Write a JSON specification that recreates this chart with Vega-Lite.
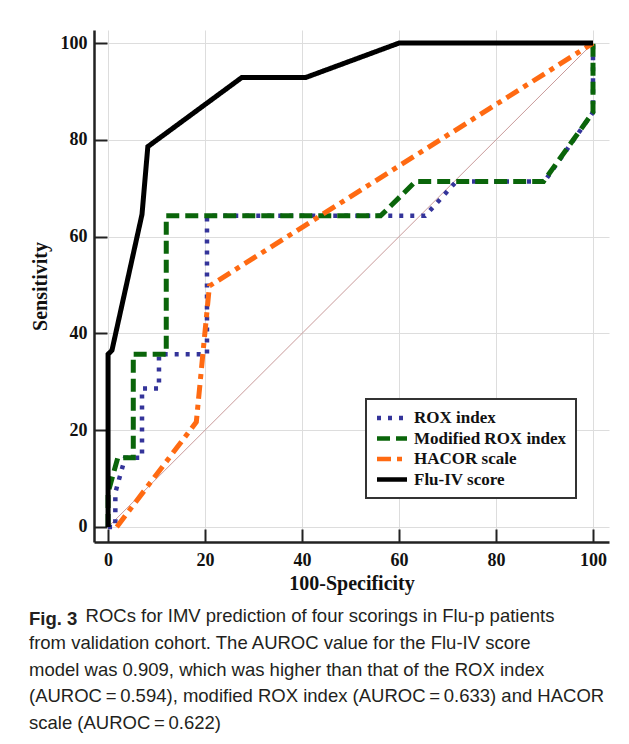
{
  "$schema": "https://vega.github.io/schema/vega-lite/v6.json",
  "width": 515,
  "height": 512,
  "autosize": {"type": "none"},
  "padding": {"left": 94, "top": 30, "right": 20, "bottom": 202},
  "background": "white",
  "datasets": {
    "roc": [
      {"model": "ROX index", "ord": 1, "fpr": 0, "sens": 0},
      {"model": "ROX index", "ord": 2, "fpr": 1.5, "sens": 0},
      {"model": "ROX index", "ord": 3, "fpr": 1.5, "sens": 7.1},
      {"model": "ROX index", "ord": 4, "fpr": 3.5, "sens": 14.3},
      {"model": "ROX index", "ord": 5, "fpr": 7, "sens": 14.3},
      {"model": "ROX index", "ord": 6, "fpr": 7, "sens": 28.6},
      {"model": "ROX index", "ord": 7, "fpr": 10.5, "sens": 28.6},
      {"model": "ROX index", "ord": 8, "fpr": 10.5, "sens": 35.7},
      {"model": "ROX index", "ord": 9, "fpr": 20.4, "sens": 35.7},
      {"model": "ROX index", "ord": 10, "fpr": 20.4, "sens": 64.3},
      {"model": "ROX index", "ord": 11, "fpr": 65.4, "sens": 64.3},
      {"model": "ROX index", "ord": 12, "fpr": 71.8, "sens": 71.4},
      {"model": "ROX index", "ord": 13, "fpr": 90, "sens": 71.4},
      {"model": "ROX index", "ord": 14, "fpr": 100, "sens": 85.7},
      {"model": "ROX index", "ord": 15, "fpr": 100, "sens": 100},
      {"model": "Modified ROX index", "ord": 1, "fpr": 0, "sens": 0},
      {"model": "Modified ROX index", "ord": 2, "fpr": 0, "sens": 7.1},
      {"model": "Modified ROX index", "ord": 3, "fpr": 1, "sens": 10.7},
      {"model": "Modified ROX index", "ord": 4, "fpr": 2, "sens": 14.3},
      {"model": "Modified ROX index", "ord": 5, "fpr": 5.2, "sens": 14.3},
      {"model": "Modified ROX index", "ord": 6, "fpr": 5.2, "sens": 35.7},
      {"model": "Modified ROX index", "ord": 7, "fpr": 12, "sens": 35.7},
      {"model": "Modified ROX index", "ord": 8, "fpr": 12, "sens": 64.3},
      {"model": "Modified ROX index", "ord": 9, "fpr": 56.2, "sens": 64.3},
      {"model": "Modified ROX index", "ord": 10, "fpr": 63.4, "sens": 71.4},
      {"model": "Modified ROX index", "ord": 11, "fpr": 89.8, "sens": 71.4},
      {"model": "Modified ROX index", "ord": 12, "fpr": 100, "sens": 85.7},
      {"model": "Modified ROX index", "ord": 13, "fpr": 100, "sens": 100},
      {"model": "HACOR scale", "ord": 1, "fpr": 1.8, "sens": 0},
      {"model": "HACOR scale", "ord": 2, "fpr": 18.2, "sens": 21.7},
      {"model": "HACOR scale", "ord": 3, "fpr": 20.9, "sens": 49.8},
      {"model": "HACOR scale", "ord": 4, "fpr": 100, "sens": 100},
      {"model": "Flu-IV score", "ord": 1, "fpr": 0, "sens": 0},
      {"model": "Flu-IV score", "ord": 2, "fpr": 0, "sens": 35.7},
      {"model": "Flu-IV score", "ord": 3, "fpr": 0.8, "sens": 36.5},
      {"model": "Flu-IV score", "ord": 4, "fpr": 7, "sens": 64.6},
      {"model": "Flu-IV score", "ord": 5, "fpr": 8.2, "sens": 78.6},
      {"model": "Flu-IV score", "ord": 6, "fpr": 27.6, "sens": 92.9},
      {"model": "Flu-IV score", "ord": 7, "fpr": 40.8, "sens": 92.9},
      {"model": "Flu-IV score", "ord": 8, "fpr": 60, "sens": 100},
      {"model": "Flu-IV score", "ord": 9, "fpr": 100, "sens": 100}
    ],
    "diag": [
      {"fpr": 0, "sens": 0},
      {"fpr": 100, "sens": 100}
    ]
  },
  "title": {
    "text": "Fig. 3",
    "subtitle": [
      "\u200b\u00a0\u00a0\u00a0\u00a0\u00a0\u00a0\u00a0\u00a0\u00a0\u00a0\u00a0ROCs for IMV prediction of four scorings in Flu-p patients",
      "from validation cohort. The AUROC value for the Flu-IV score",
      "model was 0.909, which was higher than that of the ROX index",
      "(AUROC\u2009=\u20090.594), modified ROX index (AUROC\u2009=\u20090.633) and HACOR",
      "scale (AUROC\u2009=\u20090.622)"
    ],
    "orient": "bottom",
    "anchor": "start",
    "frame": "group",
    "dx": -65,
    "offset": 17,
    "font": "Liberation Sans",
    "fontSize": 18.5,
    "fontWeight": "bold",
    "color": "#231f20",
    "subtitleFont": "Liberation Sans",
    "subtitleFontSize": 18.5,
    "subtitleFontWeight": "normal",
    "subtitleColor": "#231f20",
    "subtitleLineHeight": 26.8,
    "subtitlePadding": -21.5
  },
  "config": {
    "view": {"stroke": null},
    "axis": {
      "domainColor": "#222222",
      "domainWidth": 2.5,
      "tickColor": "#222222",
      "tickWidth": 2,
      "tickSize": -13,
      "gridColor": "#dddddd",
      "gridWidth": 1,
      "labelFont": "Liberation Serif",
      "labelFontWeight": "bold",
      "labelFontSize": 18,
      "labelColor": "#111111",
      "titleFont": "Liberation Serif",
      "titleFontWeight": "bold",
      "titleFontSize": 20,
      "titleColor": "#111111"
    },
    "legend": {
      "orient": "none",
      "legendX": 272,
      "legendY": 369,
      "strokeColor": "#333333",
      "strokeWidth": 2,
      "fillColor": "white",
      "padding": 9,
      "labelFont": "Liberation Serif",
      "labelFontWeight": "bold",
      "labelFontSize": 17,
      "labelColor": "#111111",
      "labelOffset": 12,
      "symbolType": "M-2,0H2",
      "symbolSize": 225,
      "symbolOffset": 7,
      "symbolStrokeWidth": 4.5,
      "rowPadding": 1.5,
      "title": null
    }
  },
  "layer": [
    {
      "data": {"name": "diag"},
      "mark": {"type": "line", "color": "#c99a9a", "strokeWidth": 1},
      "encoding": {
        "x": {"field": "fpr", "type": "quantitative"},
        "y": {"field": "sens", "type": "quantitative"}
      }
    },
    {
      "data": {"name": "roc"},
      "transform": [{"filter": "datum.model === 'ROX index'"}],
      "mark": {"type": "line", "strokeWidth": 4.5, "strokeCap": "butt"},
      "encoding": {
        "x": {"field": "fpr", "type": "quantitative"},
        "y": {"field": "sens", "type": "quantitative"},
        "order": {"field": "ord", "type": "quantitative"},
        "color": {"field": "model", "type": "nominal"},
        "strokeDash": {"field": "model", "type": "nominal"}
      }
    },
    {
      "data": {"name": "roc"},
      "transform": [{"filter": "datum.model === 'Modified ROX index'"}],
      "mark": {"type": "line", "strokeWidth": 5, "strokeCap": "butt"},
      "encoding": {
        "x": {"field": "fpr", "type": "quantitative"},
        "y": {"field": "sens", "type": "quantitative"},
        "order": {"field": "ord", "type": "quantitative"},
        "color": {"field": "model", "type": "nominal"},
        "strokeDash": {"field": "model", "type": "nominal"}
      }
    },
    {
      "data": {"name": "roc"},
      "transform": [{"filter": "datum.model === 'HACOR scale'"}],
      "mark": {"type": "line", "strokeWidth": 5, "strokeCap": "butt"},
      "encoding": {
        "x": {"field": "fpr", "type": "quantitative"},
        "y": {"field": "sens", "type": "quantitative"},
        "order": {"field": "ord", "type": "quantitative"},
        "color": {"field": "model", "type": "nominal"},
        "strokeDash": {"field": "model", "type": "nominal"}
      }
    },
    {
      "data": {"name": "roc"},
      "transform": [{"filter": "datum.model === 'Flu-IV score'"}],
      "mark": {"type": "line", "strokeWidth": 5, "strokeCap": "butt"},
      "encoding": {
        "x": {
          "field": "fpr", "type": "quantitative",
          "scale": {"domain": [-2.9, 103.3], "nice": false, "zero": false},
          "axis": {"values": [0, 20, 40, 60, 80, 100], "title": "100-Specificity", "labelPadding": 22, "titlePadding": 4, "labelFlush": false}
        },
        "y": {
          "field": "sens", "type": "quantitative",
          "scale": {"domain": [-3.1, 102.7], "nice": false, "zero": false},
          "axis": {"values": [0, 20, 40, 60, 80, 100], "title": "Sensitivity", "labelPadding": 20, "titlePadding": 10, "labelFlush": false}
        },
        "order": {"field": "ord", "type": "quantitative"},
        "color": {
          "field": "model", "type": "nominal",
          "scale": {
            "domain": ["ROX index", "Modified ROX index", "HACOR scale", "Flu-IV score"],
            "range": ["#34349a", "#0a650a", "#ff6a12", "#000000"]
          }
        },
        "strokeDash": {
          "field": "model", "type": "nominal",
          "scale": {
            "domain": ["ROX index", "Modified ROX index", "HACOR scale", "Flu-IV score"],
            "range": [[4, 7], [13, 6], [14, 6, 5, 6], [1, 0]]
          }
        }
      }
    }
  ]
}
